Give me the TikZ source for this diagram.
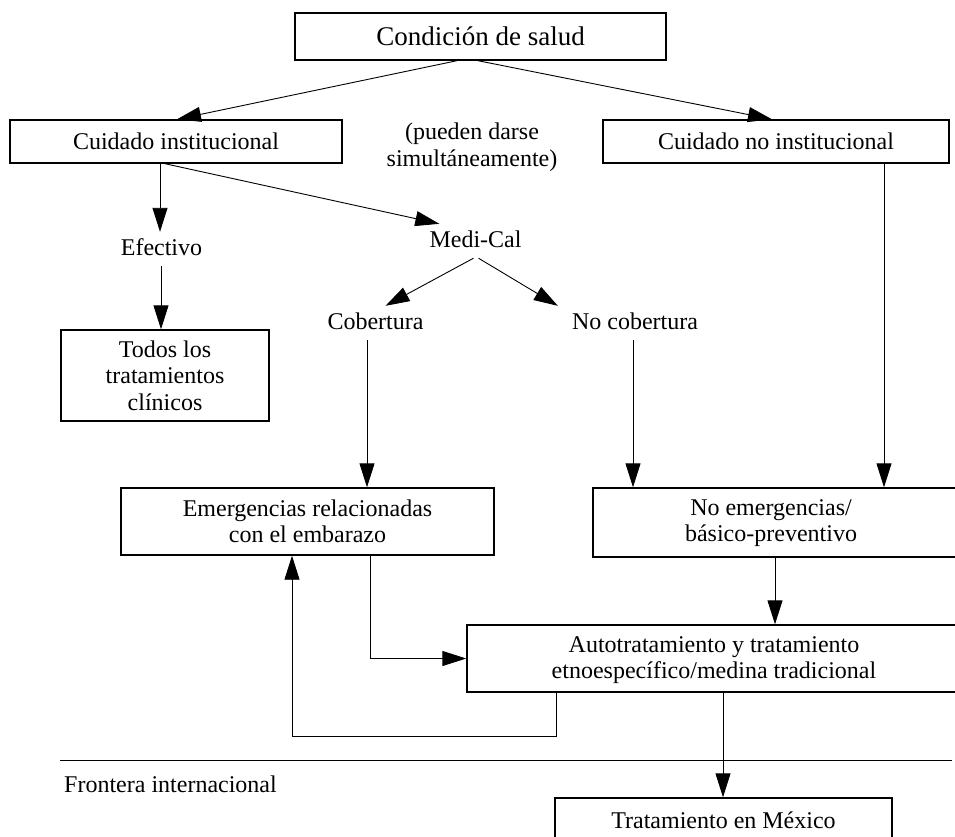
\documentclass[tikz,border=0pt]{standalone}
\usepackage{fontspec}
\setmainfont{Liberation Serif}
\usetikzlibrary{arrows.meta,calc}
\newcommand\diagfont{\fontsize{24}{26.5}\selectfont}
\newcommand\diagtitlefont{\fontsize{27}{30}\selectfont}
\begin{document}
\begin{tikzpicture}[x=1pt,y=-1pt,
  box/.style={draw, line width=1.4pt, inner sep=0pt, align=center, font=\diagfont},
  lbl/.style={font=\diagfont, text height=17pt, text depth=5pt, inner xsep=4pt, inner ysep=6pt, anchor=base},
  txt/.style={font=\diagfont, align=center},
  conn/.style={line width=0.9pt, -{Triangle[length=24pt,width=15pt]}},
  plain/.style={line width=0.9pt}
]
\useasboundingbox (0,0) rectangle (955,836);
\clip (0,0) rectangle (955,836);

% boxes
\node[box, font=\diagtitlefont, minimum width=371pt, minimum height=47pt] (cond) at (480.5,36.5) {Condición de salud};
\node[box, minimum width=332pt, minimum height=43pt] (inst) at (176,141.5) {Cuidado institucional};
\node[box, minimum width=346pt, minimum height=43pt] (noinst) at (776,141.5) {Cuidado no institucional};
\node[txt] (simul) at (472,147) {(pueden darse\\simultáneamente)};
\node[lbl] (efec) at (161.5,255) {Efectivo};
\node[box, minimum width=208pt, minimum height=91pt] (todos) at (165,375.5) {Todos los\\tratamientos\\clínicos};
\node[lbl] (medical) at (475.5,247) {Medi-Cal};
\node[lbl] (cob) at (375.5,329) {Cobertura};
\node[lbl] (nocob) at (635,329) {No cobertura};
\node[box, minimum width=373pt, minimum height=67pt] (emerg) at (307.5,521.5) {Emergencias relacionadas\\con el embarazo};
\node[box, minimum width=382pt, minimum height=69pt] (noemerg) at (784,522.5) {};
\node[txt] (noemergtxt) at (771,523) {No emergencias/\\básico-preventivo};
\node[box, minimum width=508pt, minimum height=67pt] (auto) at (721,658.5) {};
\node[txt] (autotxt) at (714,660) {Autotratamiento y tratamiento\\etnoespecífico/medina tradicional};
\node[box, minimum width=337pt, minimum height=52pt] (mex) at (723.5,824) {};
\node[lbl] (mextxt) at (723.5,828) {Tratamiento en México};
\node[lbl, anchor=base west, inner xsep=0pt] (front) at (64,792) {Frontera internacional};

% border line
\coordinate (bl) at (60,760);
\coordinate (br) at (952,760);
\draw[plain] (bl) -- (br);

% connectors
\draw[conn] ([xshift=-23.5pt]cond.south) -- ([xshift=1pt]inst.north);
\draw[conn] ([xshift=-2.5pt]cond.south) -- ([xshift=-4pt]noinst.north);
\draw[conn] ([xshift=-16pt]inst.south) -- ([xshift=-16pt]inst.south |- efec.north);
\draw[conn] ([xshift=-0.5pt]efec.south) -- ([xshift=-0.5pt]efec.south |- todos.north);
\draw[conn] ([xshift=-11pt]inst.south) -- ([xshift=14pt]medical.north west);
\draw[conn] ([xshift=-2pt]medical.south) -- ([xshift=10pt]cob.north);
\draw[conn] ([xshift=3pt]medical.south) -- ([xshift=-10pt]nocob.north west);
\draw[conn] ([xshift=-8.5pt]cob.south) -- ([xshift=-8.5pt]cob.south |- emerg.north);
\draw[conn] ([xshift=-2pt]nocob.south) -- ([xshift=-2pt]nocob.south |- noemerg.north);
\draw[conn] ([xshift=108pt]noinst.south) -- ([xshift=108pt]noinst.south |- noemerg.north);
\draw[conn] ([xshift=-9pt]noemerg.south) -- ([xshift=-9pt]noemerg.south |- auto.north);
\draw[conn] ([xshift=62.5pt]emerg.south) |- (auto.west);
\draw[conn] ([xshift=-165pt]auto.south) -- ($([xshift=-165pt]auto.south)+(0,44)$) -| ([xshift=-15.5pt]emerg.south);
\draw[conn] ([xshift=2pt]auto.south) -- ([xshift=2pt]auto.south |- mex.north);
\end{tikzpicture}
\end{document}
